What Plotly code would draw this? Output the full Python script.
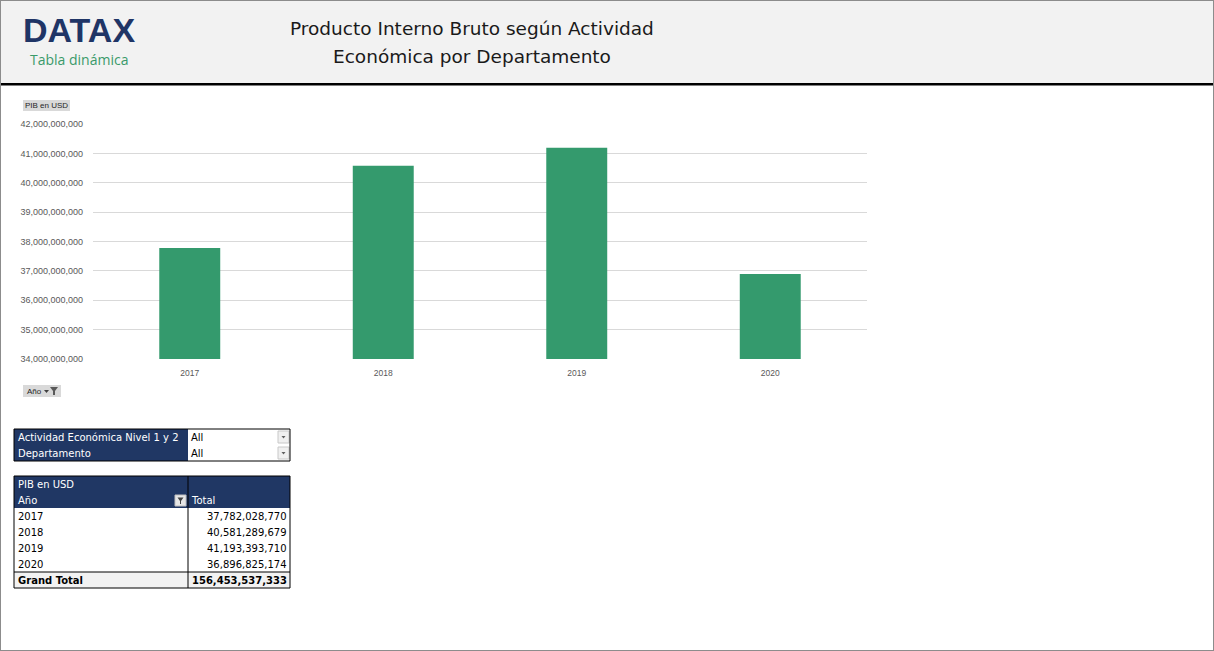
import plotly.graph_objects as go

# ---------------- data ----------------
years = ["2017", "2018", "2019", "2020"]
pib_usd = [37782028770, 40581289679, 41193393710, 36896825174]
y_ticks = [34e9, 35e9, 36e9, 37e9, 38e9, 39e9, 40e9, 41e9, 42e9]
title_lines = ["Producto Interno Bruto según Actividad", "Económica por Departamento"]
filter_labels = ["Actividad Económica Nivel 1 y 2", "Departamento"]
filter_values = ["All", "All"]
grand_total = sum(pib_usd)

W, H = 1214, 651
NAVY = "#203764"
GREEN = "#349a6d"
TFONT = "DejaVu Sans"


def X(px):
    return px / W


def Y(py):
    return 1 - py / H


shapes = []
annotations = []


def rect(x0, y0, x1, y1, fill=None, line=None, lw=0, layer="above"):
    shapes.append(dict(type="rect", xref="paper", yref="paper",
                       x0=X(x0), x1=X(x1), y0=Y(y1), y1=Y(y0),
                       fillcolor=fill if fill else "rgba(0,0,0,0)",
                       line=dict(color=line if line else "rgba(0,0,0,0)", width=lw),
                       layer=layer))


def hline(x0, x1, y, color="black", w=1):
    shapes.append(dict(type="line", xref="paper", yref="paper",
                       x0=X(x0), x1=X(x1), y0=Y(y), y1=Y(y),
                       line=dict(color=color, width=w)))


def vline(x, y0, y1, color="black", w=1):
    shapes.append(dict(type="line", xref="paper", yref="paper",
                       x0=X(x), x1=X(x), y0=Y(y0), y1=Y(y1),
                       line=dict(color=color, width=w)))


def path(pts, fill):
    d = "M " + " L ".join(f"{X(a)},{Y(b)}" for a, b in pts) + " Z"
    shapes.append(dict(type="path", xref="paper", yref="paper", path=d,
                       fillcolor=fill, line=dict(width=0)))


def text(x, y, s, size=11, color="black", family=TFONT,
         xanchor="left", yanchor="middle", bold=False):
    if bold:
        s = f"<b>{s}</b>"
    annotations.append(dict(xref="paper", yref="paper", x=X(x), y=Y(y), text=s,
                            showarrow=False, xanchor=xanchor, yanchor=yanchor,
                            font=dict(size=size, color=color, family=family)))


# ---------------- header ----------------
rect(0, 0, W, 83, fill="#f2f2f2", layer="below")
rect(0, 83, W, 85.5, fill="black")
text(79, 30, "DATAX", size=34, color="#1f3566", family="Liberation Sans",
     xanchor="center", bold=True)
text(79, 59, "Tabla dinámica", size=14, color="#3a9a6a", family="Open Sans",
     xanchor="center")
text(472, 29, title_lines[0], size=18.5, color="#1a1a1a", family="DejaVu Sans",
     xanchor="center")
text(472, 56, title_lines[1], size=18.5, color="#1a1a1a", family="DejaVu Sans",
     xanchor="center")

# ---------------- chart buttons ----------------
rect(23, 100, 70, 111, fill="#d9d9d9")
text(46.5, 105.5, "PIB en USD", size=8, color="#262626", family="Liberation Sans",
     xanchor="center")
rect(23, 385, 61, 397, fill="#d9d9d9")
text(25, 391, "Año", size=8, color="#262626", family="Liberation Sans")
path([(44, 390), (49, 390), (46.5, 393)], "#404040")
path([(50, 387), (58, 387), (55, 391), (55, 395), (53, 395), (53, 391)], "#595959")

# ---------------- filter table ----------------
ft_x0, ft_xm, ft_x1 = 14, 188, 290
ft_y0, rh = 429, 16
rect(ft_x0, ft_y0, ft_xm, ft_y0 + 2 * rh, fill=NAVY)
for i, (lab, val) in enumerate(zip(filter_labels, filter_values)):
    cy = ft_y0 + rh * i + rh / 2
    text(ft_x0 + 2, cy, lab, size=10, color="white")
    text(ft_xm + 1, cy, val, size=10, color="black")
    rect(278, cy - 6, 289, cy + 6, fill="#f0f0f0", line="#c8c8c8", lw=1)
    path([(281.5, cy - 1), (285.5, cy - 1), (283.5, cy + 1.5)], "#606060")
rect(ft_x0, ft_y0, ft_x1, ft_y0 + 2 * rh, line="black", lw=1)

# ---------------- pivot table ----------------
pt_y0 = 476
rect(ft_x0, pt_y0, ft_x1, pt_y0 + 2 * rh, fill=NAVY)
text(ft_x0 + 2, pt_y0 + rh / 2, "PIB en USD", size=10, color="white")
text(ft_x0 + 2, pt_y0 + rh * 1.5, "Año", size=10, color="white")
text(ft_xm + 1, pt_y0 + rh * 1.5, "Total", size=10, color="white")
rect(175, pt_y0 + rh + 3, 186, pt_y0 + 2 * rh - 2, fill="#e6e6e6", line="#bfbfbf", lw=1)
path([(177.5, 497.5), (183.5, 497.5), (181, 501), (181, 504), (180, 504), (180, 501)], "#404040")

row_y = pt_y0 + 2 * rh
for i, (yr, v) in enumerate(zip(years, pib_usd)):
    cy = row_y + rh * i + rh / 2
    text(ft_x0 + 2, cy, yr, size=10)
    text(ft_x1 - 1, cy, f"{v:,}", size=10, xanchor="right")
gt_y = row_y + rh * len(years)
rect(ft_x0, gt_y, ft_x1, gt_y + rh, fill="#f2f2f2")
text(ft_x0 + 2, gt_y + rh / 2, "Grand Total", size=10, bold=True)
text(ft_x1 - 1, gt_y + rh / 2, f"{grand_total:,}", size=10, xanchor="right", bold=True)
hline(ft_x0, ft_x1, gt_y, w=1)
vline(ft_xm, pt_y0, gt_y + rh, w=1)
rect(ft_x0, pt_y0, ft_x1, gt_y + rh, line="black", lw=1)

# ---------------- page border ----------------
shapes.append(dict(type="rect", xref="paper", yref="paper", x0=0, x1=1, y0=0, y1=1,
                   line=dict(color="#8c8c8c", width=2)))

# ---------------- figure ----------------
fig = go.Figure(go.Bar(x=years, y=pib_usd, marker=dict(color=GREEN, line=dict(width=0)),
                       hoverinfo="x+y"))

fig.update_layout(
    width=W, height=H, autosize=False,
    margin=dict(l=0, r=0, t=0, b=0, pad=0, autoexpand=False),
    paper_bgcolor="white", plot_bgcolor="white",
    showlegend=False,
    bargap=0.685,
    shapes=shapes, annotations=annotations,
    xaxis=dict(domain=[X(93), X(867)], type="category", showgrid=False,
               showline=False, ticks="", anchor="y", ticklabelstandoff=7,
               automargin=False,
               tickfont=dict(size=8.5, color="#595959", family="Liberation Sans")),
    yaxis=dict(domain=[Y(359), Y(124)], range=[33.999e9, 42.001e9], tickvals=y_ticks,
               tickformat=",d", showgrid=True, gridcolor="#d9d9d9", gridwidth=1,
               zeroline=False, showline=False, ticks="", ticklabelstandoff=9,
               automargin=False,
               tickfont=dict(size=9, color="#595959", family="Liberation Sans")),
)

fig.write_html(
    "out.html",
    config={"displayModeBar": False},
    post_script="document.documentElement.style.margin='0';"
                "document.body.style.margin='0';document.body.style.padding='0';"
                "document.body.style.overflow='hidden';"
                "var gd=document.getElementById('{plot_id}');"
                "gd.style.position='fixed';gd.style.top='0px';gd.style.left='0px';",
)
